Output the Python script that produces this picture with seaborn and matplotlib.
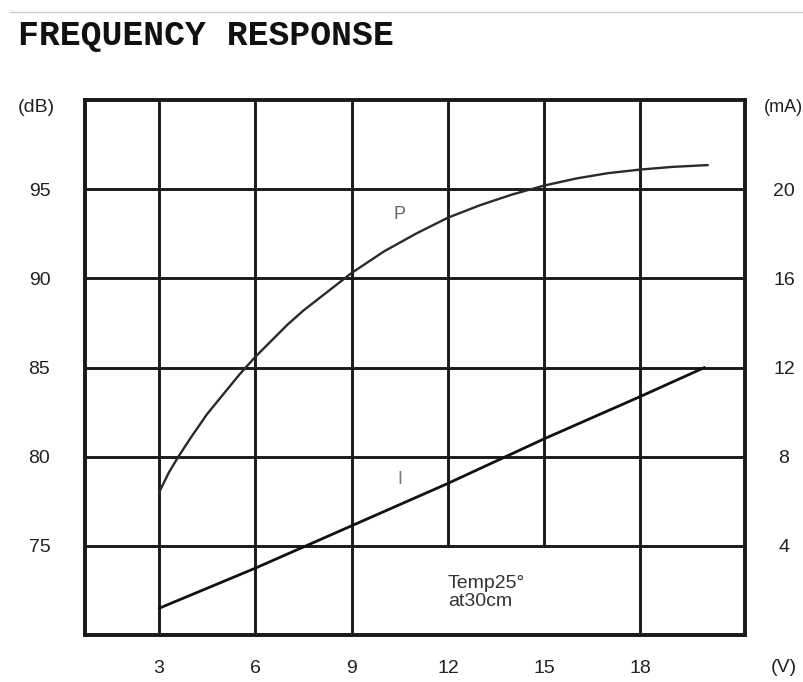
import matplotlib
matplotlib.use("Agg")
import matplotlib.pyplot as plt
from matplotlib.lines import Line2D
import seaborn as sns
import pandas as pd

# ---- data ----
voltage_P = [3.0, 3.3, 3.6, 4.0, 4.5, 5.0, 5.5, 6.0, 6.5, 7.0, 7.5, 8.0, 8.5, 9.0, 9.5,
             10, 11, 12, 13, 14, 15, 16, 17, 18, 19, 20.1]
spl_dB = [78.0, 79.1, 80.0, 81.1, 82.4, 83.5, 84.6, 85.6, 86.5, 87.4, 88.2, 88.9, 89.6, 90.3, 90.9,
          91.5, 92.5, 93.4, 94.1, 94.7, 95.2, 95.6, 95.9, 96.1, 96.25, 96.35]

voltage_I = [3, 6, 9, 12, 15, 18, 20]
current_mA = [1.2, 3.0, 4.9, 6.8, 8.8, 10.7, 12.0]

x_ticks = [3, 6, 9, 12, 15, 18]
dB_ticks = [75, 80, 85, 90, 95]
mA_ticks = [4, 8, 12, 16, 20]
note_cols = [12, 15]          # grid columns left open around the note box

title = "FREQUENCY RESPONSE"
note = "Temp25°\nat30cm"

sns.set_style("white")
plt.rcParams['font.family'] = ['Liberation Sans', 'DejaVu Sans']

fig = plt.figure(figsize=(8.04, 6.82), dpi=100)
ax = fig.add_axes([85/804, 47/682, 660/804, 535/682])
ax2 = ax.twinx()

dfP = pd.DataFrame({"V": voltage_P, "dB": spl_dB})
dfI = pd.DataFrame({"V": voltage_I, "mA": current_mA})

xmin, xmax = 0.69, 21.26
ymin, ymax = 70, 100
ax.set_xlim(xmin, xmax)
ax.set_ylim(ymin, ymax)
ax2.set_ylim((ymin - 70) * 0.8, (ymax - 70) * 0.8)

# grid
for v in x_ticks:
    lo = 75 if v in note_cols else ymin
    ax.plot([v, v], [lo, ymax], color="#1a1a1a", lw=2.1, zorder=1, solid_capstyle="butt")
for d in dB_ticks:
    ax.axhline(d, color="#1a1a1a", lw=2.1, zorder=1)

sns.lineplot(data=dfP, x="V", y="dB", ax=ax, color="#2a2a2a", lw=1.7, zorder=3)
sns.lineplot(data=dfI, x="V", y="mA", ax=ax2, color="#111111", lw=2.0, zorder=3)

for spine in list(ax.spines.values()) + list(ax2.spines.values()):
    spine.set_linewidth(2.6)
    spine.set_color("#1a1a1a")

tick_font = dict(fontsize=14, color="#222222")
ax.set_xticks(x_ticks)
ax.set_xticklabels([str(t) for t in x_ticks], **tick_font)
ax.set_yticks(dB_ticks)
ax.set_yticklabels([str(t) for t in dB_ticks], **tick_font)
ax2.set_yticks(mA_ticks)
ax2.set_yticklabels([str(t) for t in mA_ticks], ha="center", **tick_font)
ax.tick_params(axis="x", length=0, pad=18)
ax.tick_params(axis="y", length=0, pad=25)
ax2.tick_params(axis="y", length=0, pad=28)
ax.set_xlabel("")
ax.set_ylabel("")
ax2.set_ylabel("")

# labels on curves
ax.text(10.5, 93.6, "P", fontsize=13, color="#666666", ha="center", va="center")
ax.text(10.5, 78.7, "I", fontsize=13, color="#777777", ha="center", va="center")
ax.text(12.0, 72.4, note, fontsize=14, color="#333333", ha="left", va="center", linespacing=1.05)

# unit labels
fig.text(18/804, 1 - 107/682, "(dB)", fontsize=14, color="#222222", ha="left", va="center")
fig.text(764/804, 1 - 107/682, "(mA)", fontsize=13, color="#222222", ha="left", va="center")
fig.text(771/804, 1 - 668/682, "(V)", fontsize=14, color="#222222", ha="left", va="center")

# title and top rule
fig.text(18/804, 1 - 45/682, title, fontsize=25, fontweight="bold",
         family=["Liberation Mono", "DejaVu Sans Mono"], color="#111111", ha="left", va="baseline")
fig.add_artist(Line2D([10/804, 1.0], [1 - 12/682, 1 - 12/682], color="#cccccc", lw=1.0))

fig.savefig("out.png", dpi=100)
